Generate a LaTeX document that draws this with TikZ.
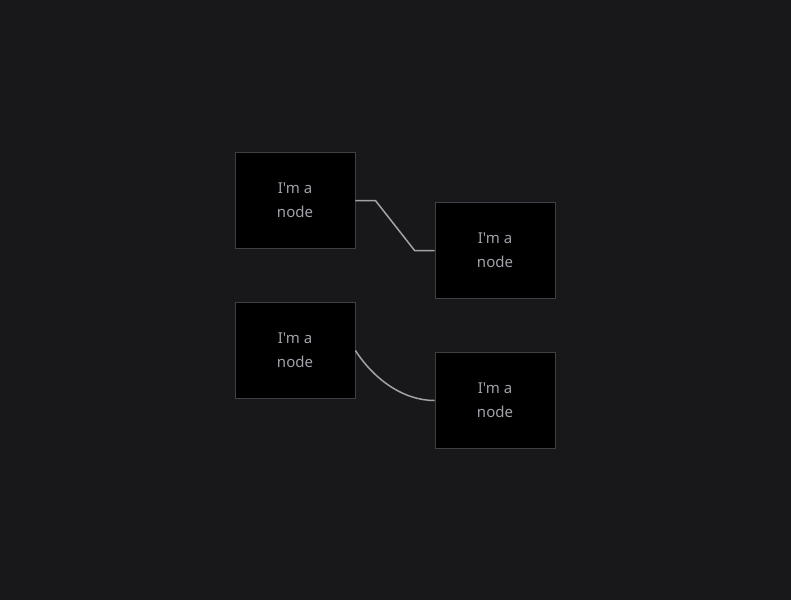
\documentclass[tikz,border=0pt]{standalone}
\usepackage{fontspec}
\setmainfont{Noto Sans}[Ligatures=TeXOff]
\usepackage{xcolor}
\usetikzlibrary{calc, positioning}

\definecolor{canvasbg}{HTML}{18181B}
\definecolor{boxline}{HTML}{3F3F46}
\definecolor{boxtext}{HTML}{A1A1AA}
\definecolor{wire}{HTML}{A3A3A3}

\begin{document}
\begin{tikzpicture}[x=1pt, y=-1pt,
    box/.style={draw=boxline, line width=0.8pt, fill=black, text=boxtext,
        minimum width=120pt, minimum height=96pt, inner sep=0pt,
        align=center, font=\fontsize{15}{24}\selectfont},
    wire/.style={draw=wire, line width=1.5pt}]

% Canvas
\fill[canvasbg] (0,0) rectangle (791,600);
\useasboundingbox (0,0) rectangle (791,600);

% Nodes
\node[box] (topleft) at (295,200.5) {I'm a\\node};
\node[box] (topright) at (495,250.5) {I'm a\\node};
\node[box] (botleft) at (295,350.5) {I'm a\\node};
\node[box] (botright) at (495,400.5) {I'm a\\node};

% Step connector
\draw[wire] (topleft.east) -- ++(20,0) -- ($ (topright.west)+(-20,0) $) -- (topright.west);

% Curved connector
\draw[wire] (botleft.east) .. controls +(18,28) and +(-32,0) .. (botright.west);

\end{tikzpicture}
\end{document}
